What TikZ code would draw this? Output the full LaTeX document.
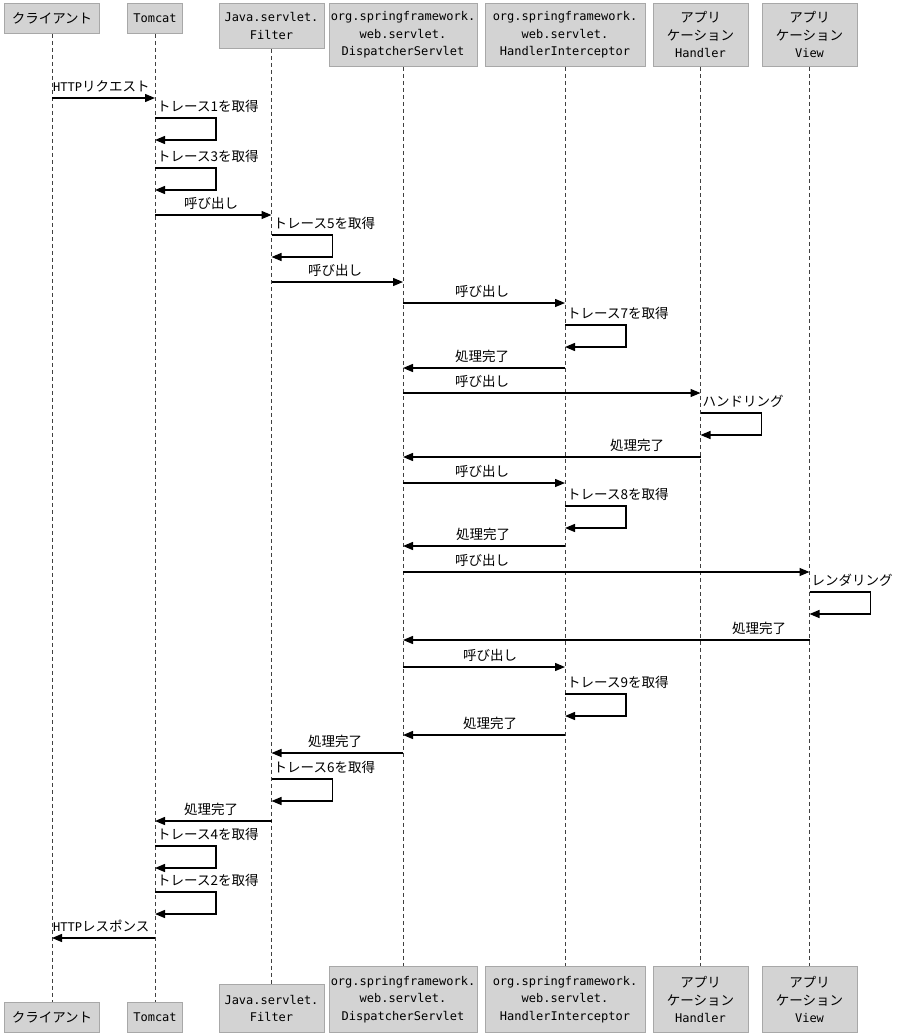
\documentclass[tikz,border=0pt]{standalone}
\usepackage{fontspec}
\setmainfont{Noto Sans CJK JP}
\newfontfamily\monofam{DejaVu Sans Mono}
\usetikzlibrary{arrows.meta}
\definecolor{boxfill}{HTML}{D3D3D3}
\definecolor{boxline}{HTML}{A8A8A8}
\definecolor{lifecol}{HTML}{404040}
\newcommand\jpf{\normalfont\fontsize{13.5}{17.5}\selectfont}
\newcommand\latn{\monofam\fontsize{12}{17.5}\selectfont}
\newcommand\selfloop[4]{%
  \draw[msg] (#1.south |- 0,#2) -| ++(61,22) -- ++(-61,0);
  \path (#1.south |- 0,#2) ++(2,-12) node[lbl,anchor=west] (#3) {#4};}
\begin{document}
\begin{tikzpicture}[x=1pt,y=-1pt,
  actor/.style={draw=boxline, fill=boxfill, line width=0.8pt, inner sep=0pt, align=center, font=\jpf},
  lifeline/.style={draw=lifecol, line width=0.9pt, dash pattern=on 4pt off 3pt},
  msg/.style={draw=black, line width=1.3pt, line join=miter, -{Triangle[length=10pt,width=8pt]}},
  lbl/.style={inner sep=0pt, font=\jpf}]
\useasboundingbox (0,0) rectangle (907,1036);
\fill[white] (0,0) rectangle (907,1036);
% top participants
\node[actor, minimum width=95pt, minimum height=30pt, anchor=north] (cliT) at (52,3) {クライアント};
\node[actor, minimum width=55pt, minimum height=30pt, anchor=north] (tomT) at (155,3) {\latn Tomcat};
\node[actor, minimum width=105pt, minimum height=45pt, anchor=north] (filT) at (271.5,3) {\latn Java.servlet.\\\latn Filter};
\node[actor, minimum width=148pt, minimum height=63pt, anchor=north] (disT) at (403,3) {\latn org.springframework.\\\latn web.servlet.\\\latn DispatcherServlet};
\node[actor, minimum width=160pt, minimum height=63pt, anchor=north] (intT) at (565,3) {\latn org.springframework.\\\latn web.servlet.\\\latn HandlerInterceptor};
\node[actor, minimum width=95pt, minimum height=63pt, anchor=north] (hanT) at (700.5,3) {アプリ\\ケーション\\\latn Handler};
\node[actor, minimum width=95pt, minimum height=63pt, anchor=north] (vieT) at (809.5,3) {アプリ\\ケーション\\\latn View};
% bottom participants
\node[actor, minimum width=95pt, minimum height=30pt, anchor=south] (cliB) at (52,1033) {クライアント};
\node[actor, minimum width=55pt, minimum height=30pt, anchor=south] (tomB) at (155,1033) {\latn Tomcat};
\node[actor, minimum width=105pt, minimum height=48pt, anchor=south] (filB) at (271.5,1033) {\latn Java.servlet.\\\latn Filter};
\node[actor, minimum width=148pt, minimum height=66pt, anchor=south] (disB) at (403,1033) {\latn org.springframework.\\\latn web.servlet.\\\latn DispatcherServlet};
\node[actor, minimum width=160pt, minimum height=66pt, anchor=south] (intB) at (565,1033) {\latn org.springframework.\\\latn web.servlet.\\\latn HandlerInterceptor};
\node[actor, minimum width=95pt, minimum height=66pt, anchor=south] (hanB) at (700.5,1033) {アプリ\\ケーション\\\latn Handler};
\node[actor, minimum width=95pt, minimum height=66pt, anchor=south] (vieB) at (809.5,1033) {アプリ\\ケーション\\\latn View};
% lifelines
\foreach \p in {cli,tom,fil,dis,int,han,vie}{\draw[lifeline] (\p T.south) -- (\p B.north);}
% messages
\draw[msg] (cliT.south |- 0,98) -- (tomT.south |- 0,98);
\node[lbl, anchor=west] (m1) at (53,86) {{\latn HTTP}リクエスト};
\selfloop{tomT}{118}{s1}{トレース1を取得}
\selfloop{tomT}{168}{s3}{トレース3を取得}
\draw[msg] (tomT.south |- 0,215) -- (filT.south |- 0,215);
\node[lbl] (m2) at (211,203) {呼び出し};
\selfloop{filT}{235}{s5}{トレース5を取得}
\draw[msg] (filT.south |- 0,282) -- (disT.south |- 0,282);
\node[lbl] (m3) at (335,270) {呼び出し};
\draw[msg] (disT.south |- 0,303) -- (intT.south |- 0,303);
\node[lbl] (m4) at (482,291) {呼び出し};
\selfloop{intT}{325}{s7}{トレース7を取得}
\draw[msg] (intT.south |- 0,368) -- (disT.south |- 0,368);
\node[lbl] (m5) at (482,356) {処理完了};
\draw[msg] (disT.south |- 0,393) -- (hanT.south |- 0,393);
\node[lbl] (m6) at (482,381) {呼び出し};
\selfloop{hanT}{413}{sh}{ハンドリング}
\draw[msg] (hanT.south |- 0,457) -- (disT.south |- 0,457);
\node[lbl] (m7) at (637,445) {処理完了};
\draw[msg] (disT.south |- 0,483) -- (intT.south |- 0,483);
\node[lbl] (m8) at (482,471) {呼び出し};
\selfloop{intT}{506}{s8}{トレース8を取得}
\draw[msg] (intT.south |- 0,546) -- (disT.south |- 0,546);
\node[lbl] (m9) at (483,534) {処理完了};
\draw[msg] (disT.south |- 0,572) -- (vieT.south |- 0,572);
\node[lbl] (m10) at (482,560) {呼び出し};
\selfloop{vieT}{592}{sr}{レンダリング}
\draw[msg] (vieT.south |- 0,640) -- (disT.south |- 0,640);
\node[lbl] (m11) at (759,628) {処理完了};
\draw[msg] (disT.south |- 0,667) -- (intT.south |- 0,667);
\node[lbl] (m12) at (490,655) {呼び出し};
\selfloop{intT}{694}{s9}{トレース9を取得}
\draw[msg] (intT.south |- 0,735) -- (disT.south |- 0,735);
\node[lbl] (m13) at (490,723) {処理完了};
\draw[msg] (disT.south |- 0,753) -- (filT.south |- 0,753);
\node[lbl] (m14) at (335,741) {処理完了};
\selfloop{filT}{779}{s6}{トレース6を取得}
\draw[msg] (filT.south |- 0,821) -- (tomT.south |- 0,821);
\node[lbl] (m15) at (211,809) {処理完了};
\selfloop{tomT}{846}{s4}{トレース4を取得}
\selfloop{tomT}{892}{s2}{トレース2を取得}
\draw[msg] (tomT.south |- 0,938) -- (cliT.south |- 0,938);
\node[lbl, anchor=west] (m16) at (53,926) {{\latn HTTP}レスポンス};
\end{tikzpicture}
\end{document}
